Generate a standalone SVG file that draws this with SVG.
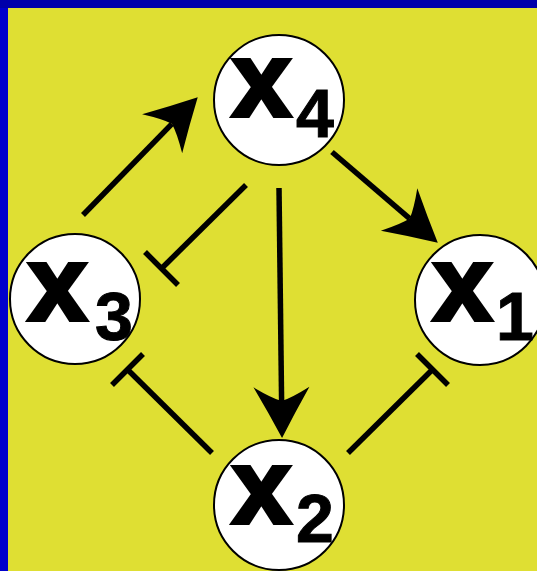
<svg xmlns="http://www.w3.org/2000/svg" width="537" height="571" viewBox="0 0 537 571">
  <style>
    .node circle { fill: #ffffff; stroke: #000000; stroke-width: 2; }
    .big { font-family: "Liberation Sans", Arial, sans-serif; font-weight: bold; font-size: 106px; fill: #000; stroke: #000; stroke-width: 4; stroke-linejoin: miter; }
    .sub { font-family: "Liberation Sans", Arial, sans-serif; font-weight: bold; font-size: 68px; fill: #000; stroke: #000; stroke-width: 1; }
    .edge { stroke: #000; stroke-width: 5.5; fill: none; }
    .act { marker-end: url(#arrow); }
  </style>
  <defs>
    <marker id="arrow" markerUnits="userSpaceOnUse" markerWidth="52" markerHeight="58" viewBox="0 -29 52 58" refX="14" refY="0" orient="auto" overflow="visible">
      <path d="M51,0 Q26,-13 0,-28 Q11,-10 14,0 Q11,10 0,28 Q26,13 51,0 Z" fill="#000"/>
    </marker>
  </defs>

  <!-- frame and backdrop -->
  <rect x="0" y="0" width="537" height="571" fill="#0000aa"/>
  <rect x="0" y="8" width="8" height="563" fill="#0000cc"/>
  <rect x="8" y="8" width="529" height="563" fill="#dfdf33"/>

  <!-- connectors -->
  <g id="edges">
    <line class="edge act" x1="83" y1="215" x2="171.9" y2="123.8"/>
    <line class="edge act" x1="332" y1="152" x2="409.7" y2="218.6"/>
    <line class="edge act" x1="279" y1="188" x2="281.6" y2="401"/>
    <!-- inhibition bars -->
    <line class="edge" x1="246" y1="185" x2="162" y2="268"/>
    <line class="edge" x1="145" y1="252" x2="178" y2="285"/>
    <line class="edge" x1="212" y1="453" x2="128" y2="370"/>
    <line class="edge" x1="112" y1="385" x2="143" y2="354"/>
    <line class="edge" x1="348" y1="453" x2="432" y2="370"/>
    <line class="edge" x1="417" y1="354" x2="448" y2="385"/>
  </g>

  <g id="x4" class="node">
    <circle cx="279" cy="100" r="65"/>
    <text class="big" x="232" y="116">x</text>
    <text class="sub" x="296" y="137">4</text>
  </g>
  <g id="x3" class="node">
    <circle cx="75" cy="299" r="65"/>
    <text class="big" x="28" y="320">x</text>
    <text class="sub" x="95" y="340">3</text>
  </g>
  <g id="x1" class="node">
    <circle cx="480" cy="300" r="65"/>
    <text class="big" x="433" y="320">x</text>
    <text class="sub" x="496" y="340">1</text>
  </g>
  <g id="x2" class="node">
    <circle cx="279" cy="505" r="65"/>
    <text class="big" x="232" y="523">x</text>
    <text class="sub" x="296" y="542">2</text>
  </g>
</svg>
